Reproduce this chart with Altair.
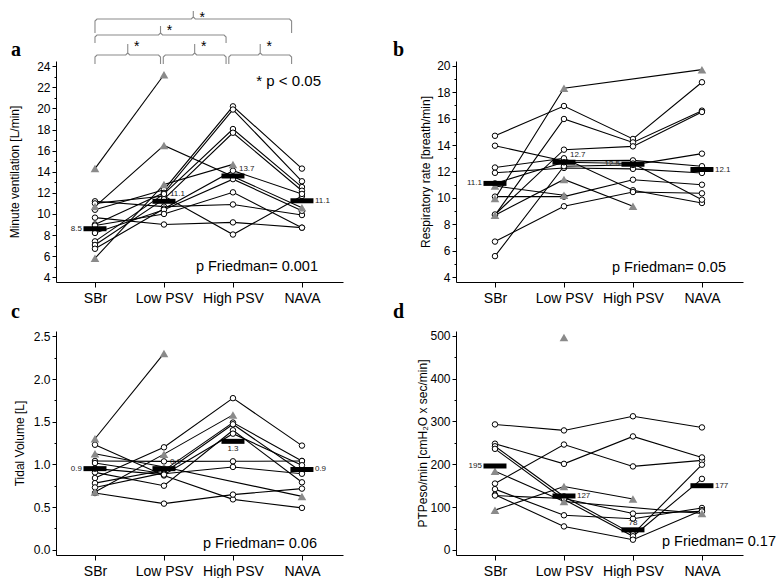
import altair as alt
import pandas as pd

CONDITIONS = ["SBr", "Low PSV", "High PSV", "NAVA"]

# ---------- panel a: minute ventilation [L/min] (None = not measured) ----------
MV_CIRCLES = [
    [11.2, 10.7, 10.9, 9.9],
    [9.65, 9.0, 9.2, 8.7],
    [11.0, 11.7, 8.05, 11.7],
    [10.4, 12.3, 20.2, 14.3],
    [9.0, 12.0, 19.9, 13.1],
    [7.4, 11.9, 18.05, 12.55],
    [7.06, 11.4, 17.7, 12.2],
    [6.7, 10.5, 14.1, 11.9],
    [8.2, 10.4, 13.3, 10.3],
    [8.9, 10.0, 12.05, 8.7],
]
MV_TRIANGLES = [
    [14.3, 23.2, None, None],
    [10.7, 16.5, None, 10.6],
    [5.8, 12.8, 14.7, None],
]
MV_MEDIAN_POS = [8.6, 11.2, 13.6, 11.25]
MV_MEDIAN_LABEL = ["8.5", "11.1", "13.7", "11.1"]
MV_MEDIAN_PLACE = ["left", "right_up", "right_up", "right"]
MV_P = "p Friedman= 0.001"

# ---------- panel b: respiratory rate [breath/min] ----------
RR_CIRCLES = [
    [14.7, 16.95, 14.46, 18.75],
    [8.7, 15.97, 14.2, 16.6],
    [8.75, 13.65, 13.9, 16.5],
    [13.95, 12.8, 12.84, 12.4],
    [12.3, 13.0, 10.58, 9.62],
    [11.9, 12.27, 12.2, 11.89],
    [10.1, 10.1, 11.38, 11.0],
    [6.7, 9.37, 10.45, 10.35],
    [5.6, 12.4, 12.5, 13.35],
    [11.1, 12.7, 12.6, 9.87],
]
RR_TRIANGLES = [
    [10.9, 10.2, None, None],
    [9.95, 18.3, None, 19.7],
    [8.7, 11.4, 9.37, None],
]
RR_MEDIAN_POS = [11.1, 12.7, 12.55, 12.15]
RR_MEDIAN_LABEL = ["11.1", "12.7", "12.5", "12.1"]
RR_MEDIAN_PLACE = ["left", "right_up", "left", "right"]
RR_P = "p Friedman= 0.05"

# ---------- panel c: tidal volume [L] ----------
TV_CIRCLES = [
    [1.23, 0.87, 0.59, 0.49],
    [0.664, 0.54, 0.646, 0.716],
    [1.04, 1.035, 1.036, 1.04],
    [0.84, 1.2, 1.776, 1.22],
    [0.78, 0.93, 1.49, 1.04],
    [0.73, 0.9, 1.47, 0.91],
    [0.906, 0.75, 1.40, 0.79],
    [1.016, 0.89, 0.97, 0.89],
    [0.95, 0.88, 1.36, 0.99],
]
TV_TRIANGLES = [
    [1.3, 2.3, None, None],
    [1.125, 0.97, None, 0.625],
    [0.676, 1.12, 1.58, None],
]
TV_MEDIAN_POS = [0.95, 0.95, 1.27, 0.94]
TV_MEDIAN_LABEL = ["0.9", "0.9", "1.3", "0.9"]
TV_MEDIAN_PLACE = ["left", "right_up", "below", "right"]
TV_P = "p Friedman= 0.06"

# ---------- panel d: PTPeso/min [cmH2O x sec/min] ----------
PTP_CIRCLES = [
    [293, 279, 312, 286],
    [155, 246, 195, 209],
    [248, 201, 265, 216],
    [242, 125, 37, 199],
    [236, 118, 32, 166],
    [142, 81, 73, 98],
    [129, 55, 24, 93],
    [127, 120, 85, 90],
]
PTP_TRIANGLES = [
    [None, 496, None, None],
    [184, 113, None, 85],
    [93, 148, 119, None],
]
PTP_MEDIAN_POS = [196, 126, 47, 150]
PTP_MEDIAN_LABEL = ["195", "127", "78", "177"]
PTP_MEDIAN_PLACE = ["left", "right", "above", "right"]
PTP_P = "p Friedman= 0.17"

# significant pairwise comparisons in panel a: (from, to, bracket row)
SIG_PAIRS = [(0, 1, 0), (1, 2, 0), (2, 3, 0), (0, 2, 1), (0, 3, 2)]
SIG_NOTE = "* p < 0.05"

FONT = "Liberation Sans"
XW = 287
XDOM = [-0.565, 3.595]
GRAY = "#8a8a8a"

PLACE = {
    "left": dict(align="right", dx=-13, dy=0),
    "right": dict(align="left", dx=13, dy=0),
    "right_up": dict(align="left", dx=6, dy=-7),
    "below": dict(align="center", dx=0, dy=8),
    "above": dict(align="center", dx=0, dy=-7),
}
# bracket rows: (ends, horizontal, tip, asterisk) in px relative to plot top
ROW_PX = {0: (3, -6, -17, -14), 1: (-18, -26, -35, -30), 2: (-28, -42, -50, -43)}


def long_rows(series, kind):
    rows = []
    for k, vals in enumerate(series):
        for i, v in enumerate(vals):
            if v is not None:
                rows.append({"pid": f"{kind}{k}", "x": i, "y": v, "kind": kind})
    return rows


def text_layer(txt, x, y, **kw):
    return alt.Chart(pd.DataFrame({"t": [txt]})).mark_text(**kw).encode(
        x=alt.value(x), y=alt.value(y), text="t:N")


def panel(letter, letter_xy, circles, triangles, med_pos, med_lab, med_place,
          ytitle, title_x, ydom, height, major, minor, fmt, ptext, ptext_xy,
          brackets=False):
    df = pd.DataFrame(long_rows(circles, "c") + long_rows(triangles, "t"))
    majs = ",".join(repr(float(v)) for v in major)
    is_major = f"indexof([{majs}], datum.value) >= 0"
    lab_arr = "[" + ",".join(f"'{c}'" for c in CONDITIONS) + "]"
    xenc = alt.X("x:Q", scale=alt.Scale(domain=XDOM, nice=False, zero=False),
                 axis=alt.Axis(values=[0, 1, 2, 3], labelExpr=f"{lab_arr}[datum.value]",
                               title=None, grid=False, tickSize=5, labelPadding=4,
                               labelFontSize=14, labelFlush=False, labelOverlap=False))
    yenc = alt.Y("y:Q", scale=alt.Scale(domain=ydom, nice=False, zero=False),
                 axis=alt.Axis(values=sorted(major + minor), format=fmt,
                               labelExpr=f"{is_major} ? datum.label : ''",
                               tickSize={"condition": {"test": is_major, "value": 4}, "value": 2},
                               labelPadding=2, labelFontSize=12, labelOverlap=False,
                               labelFlush=False, grid=False, title=ytitle,
                               titleX=title_x, titleY=height / 2, titleBaseline="middle",
                               titleFontSize=12, titleFontWeight="normal"))
    layers = []
    layers.append(alt.Chart(df).mark_line(color="black", strokeWidth=1.1).encode(
        x=xenc, y=yenc, detail="pid:N", order="x:Q"))

    if brackets:
        px_x = (XDOM[1] - XDOM[0]) / XW

        def yv(rel):
            return ydom[1] - rel * (ydom[1] - ydom[0]) / height
        brows, srows = [], []
        for b, (i, j, row) in enumerate(SIG_PAIRS):
            x0 = i * 0.95 + (0.04 if i else 0.0)
            x1 = j * 0.95
            xc = (x0 + x1) / 2
            e, h, t, s = ROW_PX[row]
            pts = [(x0, e), (x0, h + 2), (x0 + 2 * px_x, h), (xc - 2 * px_x, h),
                   (xc, h - 2), (xc, t), (xc, h - 2), (xc + 2 * px_x, h),
                   (x1 - 2 * px_x, h), (x1, h + 2), (x1, e)]
            for o, (px, rel) in enumerate(pts):
                brows.append({"bid": b, "o": o, "x": px, "y": yv(rel)})
            srows.append({"x": xc + 9 * px_x, "y": yv(s), "t": "*"})
        layers.append(alt.Chart(pd.DataFrame(brows)).mark_line(
            color=GRAY, strokeWidth=1.1, clip=False).encode(
            x=xenc, y=yenc, detail="bid:N", order="o:Q"))
        layers.append(alt.Chart(pd.DataFrame(srows)).mark_text(
            fontSize=14, font=FONT, color="black", baseline="middle", clip=False).encode(
            x=xenc, y=yenc, text="t:N"))
        layers.append(text_layer(SIG_NOTE, 265, 20, align="right", baseline="middle",
                                 fontSize=15, font=FONT, color="black"))

    layers.append(alt.Chart(df[df.kind == "c"]).mark_circle(
        size=30, color="white", stroke="black", strokeWidth=1, opacity=1).encode(x=xenc, y=yenc))
    layers.append(alt.Chart(df[df.kind == "t"]).mark_point(
        shape="triangle-up", filled=True, size=75, color=GRAY, opacity=1).encode(x=xenc, y=yenc))

    mdf = pd.DataFrame({"x": range(4), "y": med_pos, "lab": med_lab, "place": med_place})
    layers.append(alt.Chart(mdf).mark_tick(orient="horizontal", size=23, thickness=5,
                                           color="black", opacity=1).encode(x=xenc, y=yenc))
    for pl in sorted(set(med_place)):
        layers.append(alt.Chart(mdf[mdf.place == pl]).mark_text(
            baseline="middle", fontSize=8, font=FONT, color="#222222", **PLACE[pl]).encode(
            x=xenc, y=yenc, text="lab:N"))

    layers.append(text_layer(ptext, ptext_xy[0], ptext_xy[1], align="right",
                             baseline="middle", fontSize=14.5, font=FONT, color="black"))
    layers.append(text_layer(letter, letter_xy[0], letter_xy[1], align="left",
                             baseline="alphabetic", fontSize=20, font="Liberation Serif",
                             fontWeight="bold", color="black"))
    return alt.layer(*layers).properties(width=XW, height=height)


pa = panel("a", (-45, -5), MV_CIRCLES, MV_TRIANGLES, MV_MEDIAN_POS, MV_MEDIAN_LABEL,
           MV_MEDIAN_PLACE, "Minute ventilation [L/min]", -41.5, [3.55, 24.5], 221,
           list(range(4, 25, 2)), list(range(5, 25, 2)), "d", MV_P, (262, 206),
           brackets=True)
pb = panel("b", (-63, -5), RR_CIRCLES, RR_TRIANGLES, RR_MEDIAN_POS, RR_MEDIAN_LABEL,
           RR_MEDIAN_PLACE, "Respiratory rate [breath/min]", -31, [3.645, 20.355], 221,
           list(range(4, 21, 2)), list(range(5, 20, 2)), "d", RR_P, (270, 207))
pc = panel("c", (-45, -13), TV_CIRCLES, TV_TRIANGLES, TV_MEDIAN_POS, TV_MEDIAN_LABEL,
           TV_MEDIAN_PLACE, "Tidal Volume [L]", -36.5, [-0.062, 2.563], 224,
           [0.0, 0.5, 1.0, 1.5, 2.0, 2.5], [0.25, 0.75, 1.25, 1.75, 2.25], ".1f",
           TV_P, (261, 213))
pdd = panel("d", (-63, -13), PTP_CIRCLES, PTP_TRIANGLES, PTP_MEDIAN_POS, PTP_MEDIAN_LABEL,
            PTP_MEDIAN_PLACE, "PTPeso/min [cmH₂O x sec/min]", -34, [-11.7, 511], 224,
            [0, 100, 200, 300, 400, 500], [50, 150, 250, 350, 450], "d", PTP_P, (320, 211))

chart = alt.concat(pa, pb, pc, pdd, columns=2, spacing={"row": 49, "column": 113},
                   bounds="flush").properties(padding=0).configure_view(
    stroke=None).configure_axis(
    domainColor="black", tickColor="black", labelColor="black", titleColor="black",
    labelFont=FONT, titleFont=FONT, domainWidth=1, tickWidth=1)

chart.save("out.html", embed_options={"renderer": "svg", "actions": False})
